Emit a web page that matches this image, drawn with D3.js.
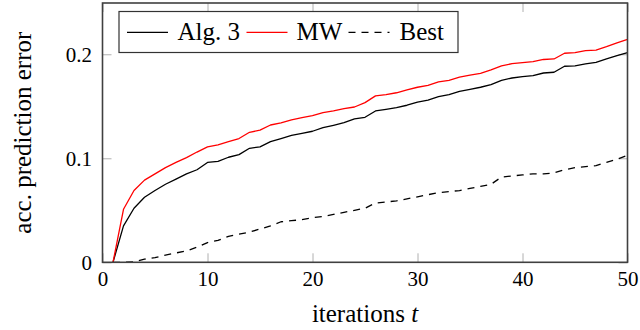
<!DOCTYPE html>
<html>
<head>
<meta charset="utf-8">
<script src="https://cdn.jsdelivr.net/npm/d3@7"></script>
</head>
<body style="margin:0">
<svg></svg>
<script>
const width = 640;
const height = 330;
const FONT = "Liberation Serif";

// iterations t = 1..50
const iterations = d3.range(1, 51);

const alg3 = [
  0, 0.035, 0.052, 0.0625, 0.069, 0.075, 0.080, 0.085, 0.089, 0.096,
  0.097, 0.101, 0.1035, 0.1096, 0.111, 0.116, 0.119, 0.122, 0.124, 0.126,
  0.1294, 0.1317, 0.1342, 0.1378, 0.1394, 0.1455, 0.1471, 0.1487, 0.151, 0.1541,
  0.156, 0.1592, 0.1612, 0.1644, 0.1663, 0.1683, 0.1708, 0.175, 0.1772, 0.1785,
  0.1794, 0.182, 0.1827, 0.1885, 0.1888, 0.1907, 0.1923, 0.1955, 0.1987, 0.2015
];

const mw = [
  0, 0.051, 0.069, 0.079, 0.085, 0.091, 0.096, 0.1006, 0.106, 0.111,
  0.113, 0.116, 0.119, 0.125, 0.127, 0.132, 0.134, 0.137, 0.139, 0.141,
  0.1439, 0.1455, 0.1477, 0.1493, 0.1535, 0.160, 0.1612, 0.163, 0.1657, 0.1683,
  0.170, 0.1734, 0.175, 0.178, 0.180, 0.1817, 0.185, 0.1888, 0.191, 0.192,
  0.193, 0.195, 0.1955, 0.201, 0.2015, 0.2035, 0.204, 0.2073, 0.211, 0.2144
];

const best = [
  0, 0, 0.0005, 0.003, 0.0045, 0.007, 0.009, 0.011, 0.0145, 0.019,
  0.021, 0.025, 0.027, 0.029, 0.032, 0.035, 0.039, 0.040, 0.041, 0.043,
  0.044, 0.046, 0.048, 0.050, 0.052, 0.057, 0.058, 0.059, 0.061, 0.063,
  0.065, 0.067, 0.068, 0.069, 0.071, 0.073, 0.075, 0.082, 0.083, 0.084,
  0.085, 0.085, 0.086, 0.089, 0.091, 0.092, 0.093, 0.096, 0.099, 0.103
];

const xTicks = [0, 10, 20, 30, 40, 50];
const yTicks = [0, 0.1, 0.2];

const series = [
  { name: "Alg. 3", values: alg3, color: "#000", dash: null },
  { name: "MW", values: mw, color: "#ff0000", dash: null },
  { name: "Best", values: best, color: "#000", dash: "7,6" }
];

/* -------------------------
   LAYOUT
--------------------------*/
const margin = { left: 102.5, right: 12.5, top: 3, bottom: 67.7 };
const x = d3.scaleLinear().domain([0, 50]).range([margin.left, width - margin.right]);
const y = d3.scaleLinear().domain([0, 0.2493]).range([height - margin.bottom, margin.top]);

const svg = d3.select("svg")
  .attr("width", width)
  .attr("height", height)
  .attr("font-family", FONT)
  .style("display", "block");

/* -------------------------
   TICKS (inside, all four sides)
--------------------------*/
const tickLen = 9;
const tickColor = "#b0b0b0";

const xAxisB = svg.append("g")
  .attr("transform", `translate(0,${y(0)})`)
  .call(d3.axisBottom(x).tickValues(xTicks).tickSize(-tickLen).tickPadding(0).tickFormat(d3.format("d")));
const xAxisT = svg.append("g")
  .attr("transform", `translate(0,${y.range()[1]})`)
  .call(d3.axisTop(x).tickValues(xTicks).tickSize(-tickLen).tickFormat(""));
const yAxisL = svg.append("g")
  .attr("transform", `translate(${x(0)},0)`)
  .call(d3.axisLeft(y).tickValues(yTicks).tickSize(-tickLen).tickFormat(d => d === 0 ? "0" : d3.format(".1f")(d)));
const yAxisR = svg.append("g")
  .attr("transform", `translate(${x(50)},0)`)
  .call(d3.axisRight(y).tickValues(yTicks).tickSize(-tickLen).tickFormat(""));

[xAxisB, xAxisT, yAxisL, yAxisR].forEach(g => {
  g.select(".domain").remove();
  g.attr("font-family", FONT).attr("font-size", 21);
  g.selectAll(".tick line").attr("stroke", tickColor).attr("stroke-width", 1);
});

xAxisB.selectAll(".tick text")
  .attr("y", 286 - y(0))
  .attr("dy", null)
  .attr("fill", "#000");

yAxisL.selectAll(".tick text")
  .attr("x", 92 - x(0))
  .attr("dy", "0.34em")
  .attr("fill", "#000");

/* -------------------------
   LINES
--------------------------*/
const line = d3.line()
  .x((d, i) => x(iterations[i]))
  .y(d => y(d));

svg.append("g")
  .selectAll("path")
  .data(series)
  .enter()
  .append("path")
  .attr("d", d => line(d.values))
  .attr("fill", "none")
  .attr("stroke", d => d.color)
  .attr("stroke-width", 1.3)
  .attr("stroke-dasharray", d => d.dash)
  .attr("stroke-linejoin", "round");

/* frame */
svg.append("rect")
  .attr("x", x(0))
  .attr("y", y.range()[1])
  .attr("width", x(50) - x(0))
  .attr("height", y(0) - y.range()[1])
  .attr("fill", "none")
  .attr("stroke", "#404040")
  .attr("stroke-width", 1.6);

/* -------------------------
   AXIS LABELS
--------------------------*/
const xLabel = svg.append("text")
  .attr("x", (x(0) + x(50)) / 2)
  .attr("y", 322)
  .attr("text-anchor", "middle")
  .attr("font-size", 25);
xLabel.append("tspan").text("iterations ");
xLabel.append("tspan").attr("font-style", "italic").text("t");

svg.append("text")
  .attr("transform", `translate(31,${(y(0) + y.range()[1]) / 2}) rotate(-90)`)
  .attr("text-anchor", "middle")
  .attr("font-size", 25)
  .text("acc. prediction error");

/* -------------------------
   LEGEND
--------------------------*/
const legend = svg.append("g");
legend.append("rect")
  .attr("x", 119)
  .attr("y", 11.5)
  .attr("width", 339)
  .attr("height", 41)
  .attr("fill", "#fff")
  .attr("stroke", "#333")
  .attr("stroke-width", 1.2);

const legendPos = [
  { lx: 127, tx: 177.5 },
  { lx: 246.5, tx: 296.5 },
  { lx: 348.5, tx: 399.5 }
];

series.forEach((s, i) => {
  const p = legendPos[i];
  legend.append("line")
    .attr("x1", p.lx)
    .attr("x2", p.lx + 41)
    .attr("y1", 32.3)
    .attr("y2", 32.3)
    .attr("stroke", s.color)
    .attr("stroke-width", 1.3)
    .attr("stroke-dasharray", s.dash);
  legend.append("text")
    .attr("x", p.tx)
    .attr("y", 39.5)
    .attr("font-size", 25)
    .text(s.name);
});
</script>
</body>
</html>
